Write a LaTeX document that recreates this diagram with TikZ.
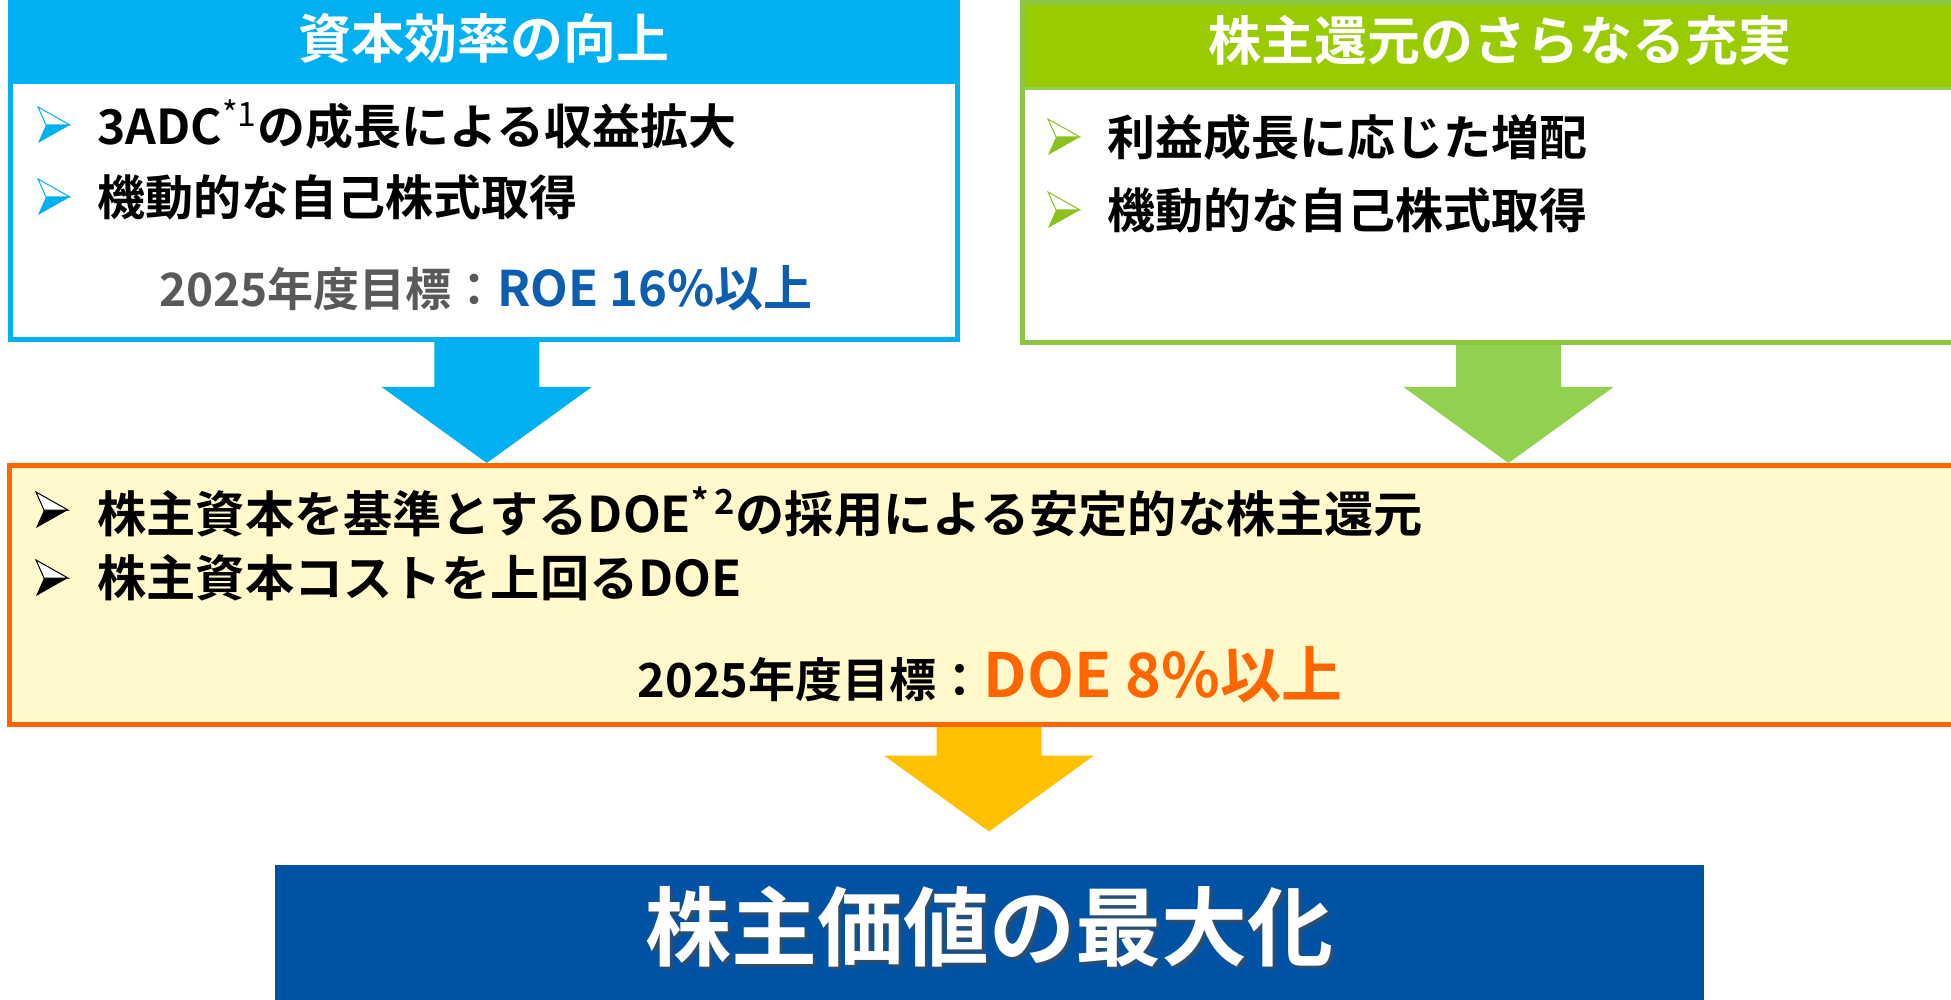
\documentclass[tikz,border=0pt]{standalone}
\usepackage{fontspec}
\setmainfont{Noto Sans CJK JP}[BoldFont={Noto Sans CJK JP Bold}]
\usetikzlibrary{calc,fit}
\definecolor{cyanA}{HTML}{00B0F0}
\definecolor{greenH}{HTML}{99CC00}
\definecolor{greenB}{HTML}{8DC63F}
\definecolor{greenA}{HTML}{92D050}
\definecolor{greenBul}{HTML}{8CC21E}
\definecolor{orangeB}{HTML}{FF6600}
\definecolor{creamF}{HTML}{FFF9CC}
\definecolor{yellowA}{HTML}{FFC000}
\definecolor{navyF}{HTML}{0052A4}
\definecolor{roeBlue}{HTML}{0B5FAE}
\definecolor{grayT}{HTML}{595959}
\newcommand\blockarr[3]{%
  \fill[#3] ($(#1)+(-52.5,0)$) -- ($(#1)+(52.5,0)$) -- ($(#2)+(52.5,-76)$)
    -- ($(#2)+(105,-76)$) -- (#2) -- ($(#2)+(-105,-76)$) -- ($(#2)+(-52.5,-76)$) -- cycle;}
\tikzset{
  pics/bul/.style={code={
    \fill[#1] (-8,0) -- (16,0) -- (-16,18) -- cycle;
    \draw[#1, line width=0.5pt, fill=white, line join=miter] (-16,-18) -- (16,0) -- (-8,0) -- cycle;
  }},
  boxnode/.style={inner sep=0pt, line width=2.5pt},
  titletxt/.style={text=white, font=\bfseries\fontsize{26.5}{30}\selectfont, inner sep=0pt},
  btxt/.style={anchor=west, inner sep=0pt, font=\bfseries\fontsize{24}{28}\selectfont},
  otxt/.style={anchor=west, inner sep=0pt, font=\bfseries\fontsize{24.6}{28}\selectfont},
  goaltxt/.style={inner sep=0pt, font=\bfseries\fontsize{23}{28}\selectfont},
  bigtxt/.style={inner sep=0pt, font=\bfseries\fontsize{43}{48}\selectfont},
}
\begin{document}
\begin{tikzpicture}[x=0.5pt,y=-0.5pt]
\useasboundingbox (0,0) rectangle (1951,1000);
\clip (0,0) rectangle (1951,1000);

% boxes (named via fit)
\node[boxnode, fit={(12.5,5) (955,337)}] (bluebox) {};
\node[boxnode, fit={(1025,5) (1985,340)}] (greenbox) {};
\node[boxnode, fit={(12,468) (1965,722)}] (orangebox) {};
\node[boxnode, fit={(277,867) (1701,1020)}] (navybox) {};

% arrow anchors
\coordinate (a1s) at ($(bluebox.south)+(3,0)$);
\coordinate (a1t) at (a1s |- 0,463);
\coordinate (a2s) at ($(greenbox.south west)+(486,0)$);
\coordinate (a2t) at (a2s |- 0,463);
\coordinate (a3s) at (orangebox.south -| navybox.north);
\coordinate (a3t) at ($(navybox.north)+(0,-33)$);

% block arrows
\blockarr{a1s}{a1t}{cyanA}
\blockarr{a2s}{a2t}{greenA}
\blockarr{a3s}{a3t}{yellowA}

% blue box
\fill[white] (bluebox.south west) rectangle (bluebox.north east);
\fill[cyanA] (bluebox.north west) rectangle ($(bluebox.north east)+(0,82)$);
\draw[cyanA, line width=2.5pt] (bluebox.south west) rectangle (bluebox.north east);
\node[titletxt] (t1) at ($(bluebox.north)+(0,36)$) {資本効率の向上};
\pic at (54,125) {bul=cyanA};
\pic at (54,197) {bul=cyanA};
\node[btxt] (b11) at (97,125) {3ADC\textsuperscript{\mdseries *1}の成長による収益拡大};
\node[btxt] (b12) at (97,197) {機動的な自己株式取得};
\node[goaltxt] (g1) at (486,288) {\textcolor{grayT}{2025年度目標：}\textcolor{roeBlue}{\fontsize{24.5}{28}\selectfont ROE 16\%以上}};

% green box
\fill[white] (greenbox.south west) rectangle (greenbox.north east);
\fill[greenH] (greenbox.north west) rectangle ($(greenbox.north east)+(0,85)$);
\draw[greenB, line width=2.5pt] (greenbox.south west) rectangle (greenbox.north east);
\draw[greenA, line width=1.5pt] ($(greenbox.north west)+(0,86)$) -- ($(greenbox.north east)+(0,86)$);
\node[titletxt] (t2) at (1500,40) {株主還元のさらなる充実};
\pic at (1064,137) {bul=greenBul};
\pic at (1064,210) {bul=greenBul};
\node[btxt] (b21) at (1107,137) {利益成長に応じた増配};
\node[btxt] (b22) at (1107,210) {機動的な自己株式取得};

% orange box
\draw[orangeB, fill=creamF, line width=2.5pt] (orangebox.south west) rectangle (orangebox.north east);
\pic at (52,510) {bul=black};
\pic at (52,578) {bul=black};
\node[otxt] (b31) at (97,512) {株主資本を基準とするDOE\textsuperscript{*\,2}の採用による安定的な株主還元};
\node[otxt] (b32) at (97,578) {株主資本コストを上回るDOE};
\node[goaltxt] (g3) at (990,675) {\textcolor{black}{\fontsize{23.5}{28}\selectfont 2025年度目標：}\textcolor{orangeB}{\fontsize{30.5}{34}\selectfont DOE 8\%以上}};

% navy box
\fill[navyF] (navybox.south west) rectangle (navybox.north east);
\node[bigtxt, text=black!70, opacity=0.6] (t4s) at (992,930) {株主価値の最大化};
\node[bigtxt, text=white] (t4) at (989,927) {株主価値の最大化};
\end{tikzpicture}
\end{document}
